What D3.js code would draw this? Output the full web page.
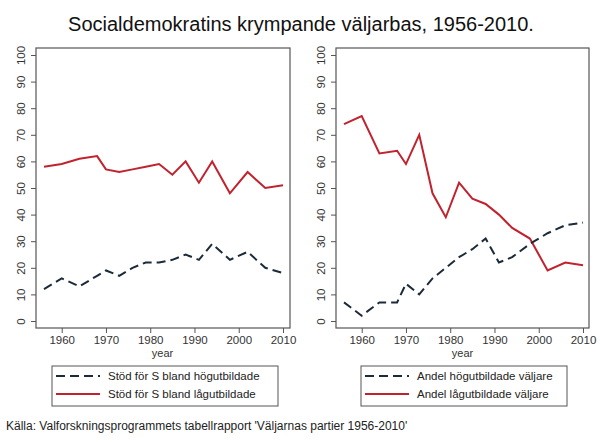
<!DOCTYPE html>
<html><head><meta charset="utf-8">
<script src="https://cdn.jsdelivr.net/npm/d3@7"></script>
<style>body{margin:0;background:#fff}svg{display:block}text{font-family:"Liberation Sans",Arial,sans-serif}</style>
</head><body>
<script>
const years = [1956,1960,1964,1968,1970,1973,1976,1979,1982,1985,1988,1991,1994,1998,2002,2006,2010];
const stodHog = [12,16,13,17,19,17,20,22,22,23,25,23,29,23,26,20,18];
const stodLag = [58,59,61,62,57,56,57,58,59,55,60,52,60,48,56,50,51];
const andelHog = [7,2,7,7,14,10,16,20,24,27,31,22,24,29,33,36,37];
const andelLag = [74,77,63,64,59,70,48,39,52,46,44,40,35,31,19,22,21];
const yTicks = [0,10,20,30,40,50,60,70,80,90,100];
const xTicks = [1960,1970,1980,1990,2000,2010];
const titleText = "Socialdemokratins krympande väljarbas, 1956-2010.";
const sourceText = "Källa: Valforskningsprogrammets tabellrapport 'Väljarnas partier 1956-2010'";
const panels = [
  {hog: stodHog, lag: stodLag, labels: ["Stöd för S bland högutbildade","Stöd för S bland lågutbildade"]},
  {hog: andelHog, lag: andelLag, labels: ["Andel högutbildade väljare","Andel lågutbildade väljare"]}
];

const W = 600, H = 442;
const svg = d3.select("body").append("svg").attr("width", W).attr("height", H);
svg.append("text").attr("x", 301).attr("y", 31).attr("text-anchor","middle")
  .attr("font-size", 20).attr("fill","#111").text(titleText);
svg.append("text").attr("x", 6).attr("y", 430).attr("font-size", 12).attr("fill","#222").text(sourceText);

const RED = "#c0222e", NAVY = "#1c2b3a";
const layout = [
  {fx0:36, fx1:290, ax0:44, ax1:283, lg:[52,366,226,40]},
  {fx0:336, fx1:589, ax0:344, ax1:583, lg:[361,366,206,40]}
];
const fy0 = 48, fy1 = 328;
const y = d3.scaleLinear().domain([0,100]).range([321,55]);

panels.forEach((p,i) => {
  const L = layout[i];
  const x = d3.scaleLinear().domain([1956,2010]).range([L.ax0, L.ax1]);
  const g = svg.append("g");
  g.append("rect").attr("x", L.fx0).attr("y", fy0).attr("width", L.fx1-L.fx0).attr("height", fy1-fy0)
    .attr("fill","none").attr("stroke","#555").attr("stroke-width",1.2);
  // y axis
  const ya = g.append("g").attr("transform", `translate(${L.fx0},0)`)
    .call(d3.axisLeft(y).tickValues(yTicks).tickSize(5).tickFormat(d3.format("d")));
  ya.select(".domain").remove();
  ya.selectAll("line").attr("stroke","#555");
  ya.selectAll("text").attr("font-size", 11.5).attr("fill","#333")
    .attr("font-family","Liberation Sans, Arial, sans-serif")
    .attr("x", 0).attr("y", 0).attr("dy", 0)
    .attr("text-anchor","middle")
    .attr("transform","translate(-11,0) rotate(-90)");
  // x axis
  const xa = g.append("g").attr("transform", `translate(0,${fy1})`)
    .call(d3.axisBottom(x).tickValues(xTicks).tickSize(5).tickPadding(3).tickFormat(d3.format("d")));
  xa.select(".domain").remove();
  xa.selectAll("line").attr("stroke","#555");
  xa.selectAll("text").attr("font-size", 11.5).attr("fill","#333").attr("font-family","Liberation Sans, Arial, sans-serif");
  g.append("text").attr("x", (L.ax0+L.ax1)/2 - 1).attr("y", 357).attr("text-anchor","middle")
    .attr("font-size", 11).attr("fill","#333").text("year");
  const line = d3.line().x((d,j) => x(years[j])).y(d => y(d));
  g.append("path").datum(p.lag).attr("d", line).attr("fill","none").attr("stroke", RED).attr("stroke-width", 2);
  g.append("path").datum(p.hog).attr("d", line).attr("fill","none").attr("stroke", NAVY).attr("stroke-width", 2)
    .attr("stroke-dasharray","9,5");
  // legend
  const [lx, ly, lw, lh] = L.lg;
  const lgG = svg.append("g");
  lgG.append("rect").attr("x", lx).attr("y", ly).attr("width", lw).attr("height", lh)
    .attr("fill","#fff").attr("stroke","#555").attr("stroke-width",1);
  [[NAVY,"9,5"],[RED,null]].forEach((s,k) => {
    const yy = ly + 10 + k*18;
    lgG.append("line").attr("x1", lx+4).attr("x2", lx+48).attr("y1", yy).attr("y2", yy)
      .attr("stroke", s[0]).attr("stroke-width", 2).attr("stroke-dasharray", s[1]);
    lgG.append("text").attr("x", lx+56).attr("y", yy+4).attr("font-size", 11.5).attr("fill","#222").text(p.labels[k]);
  });
});
</script>
</body></html>
